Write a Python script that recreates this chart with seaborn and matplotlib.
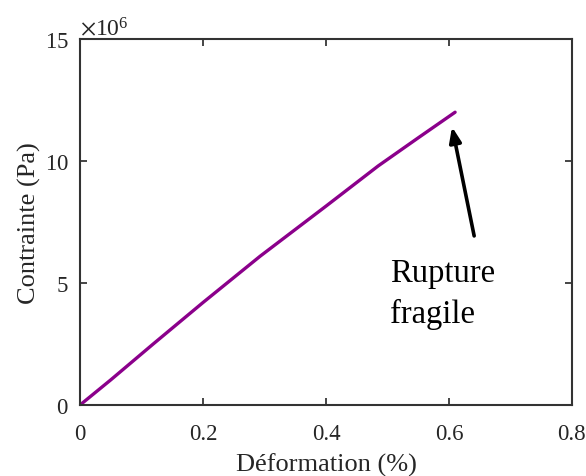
import matplotlib
matplotlib.use("Agg")
import matplotlib.pyplot as plt
import matplotlib.ticker as mticker
import seaborn as sns
import pandas as pd

# Stress-strain curve (strain in %, stress in Pa)
strain = [0.0, 0.05, 0.119, 0.2, 0.293, 0.4, 0.485, 0.55, 0.61]
stress = [0.0, 1.03e6, 2.50e6, 4.20e6, 6.10e6, 8.15e6, 9.80e6, 10.95e6, 12.0e6]

x_ticks = [0, 0.2, 0.4, 0.6, 0.8]
x_tick_labels = ["0", "0.2", "0.4", "0.6", "0.8"]
y_ticks = [0, 5e6, 10e6, 15e6]

x_label = "Déformation (%)"
y_label = "Contrainte (Pa)"
note = "Rupture\nfragile"

sns.set_style("ticks")
plt.rcParams["font.family"] = ["Liberation Serif", "DejaVu Serif"]
plt.rcParams["mathtext.fontset"] = "stix"

df = pd.DataFrame({"strain": strain, "stress": stress})

fig = plt.figure(figsize=(5.86, 4.77), dpi=100)
ax = fig.add_axes([0.1365, 0.1488, 0.8395, 0.7673])

sns.lineplot(data=df, x="strain", y="stress", ax=ax, color="#8b008b",
             linewidth=2.4, sort=True, estimator=None)

ax.set_xlim(0, 0.8)
ax.set_ylim(0, 15e6)
ax.set_xticks(x_ticks)
ax.set_xticklabels(x_tick_labels)
ax.set_yticks(y_ticks)
fmt = mticker.ScalarFormatter(useMathText=True)
fmt.set_powerlimits((6, 6))
ax.yaxis.set_major_formatter(fmt)
ax.yaxis.get_offset_text().set_fontsize(17)
ax.yaxis.get_offset_text().set_color("#262626")

ax.tick_params(direction="in", length=5, width=1.2, top=True, right=True,
               labelsize=16.5, colors="#262626")
ax.tick_params(axis="x", pad=13)
ax.tick_params(axis="y", pad=8)
for sp in ax.spines.values():
    sp.set_visible(True)
    sp.set_linewidth(1.5)
    sp.set_color("#333333")

ax.set_xlabel(x_label, fontsize=19, color="#262626", labelpad=6)
ax.set_ylabel(y_label, fontsize=19, color="#262626", labelpad=3)

# Arrow pointing at the failure point
ax.annotate("", xy=(0.605, 11.4e6), xytext=(0.641, 6.93e6),
            arrowprops=dict(arrowstyle="-|>,head_length=0.9,head_width=0.35",
                            color="black", lw=2.6, shrinkA=0, shrinkB=0))
ax.text(0.504, 6.05e6, note, fontsize=23.5, ha="left", va="top",
        color="black", linespacing=1.4)

fig.savefig("out.png", dpi=100)
